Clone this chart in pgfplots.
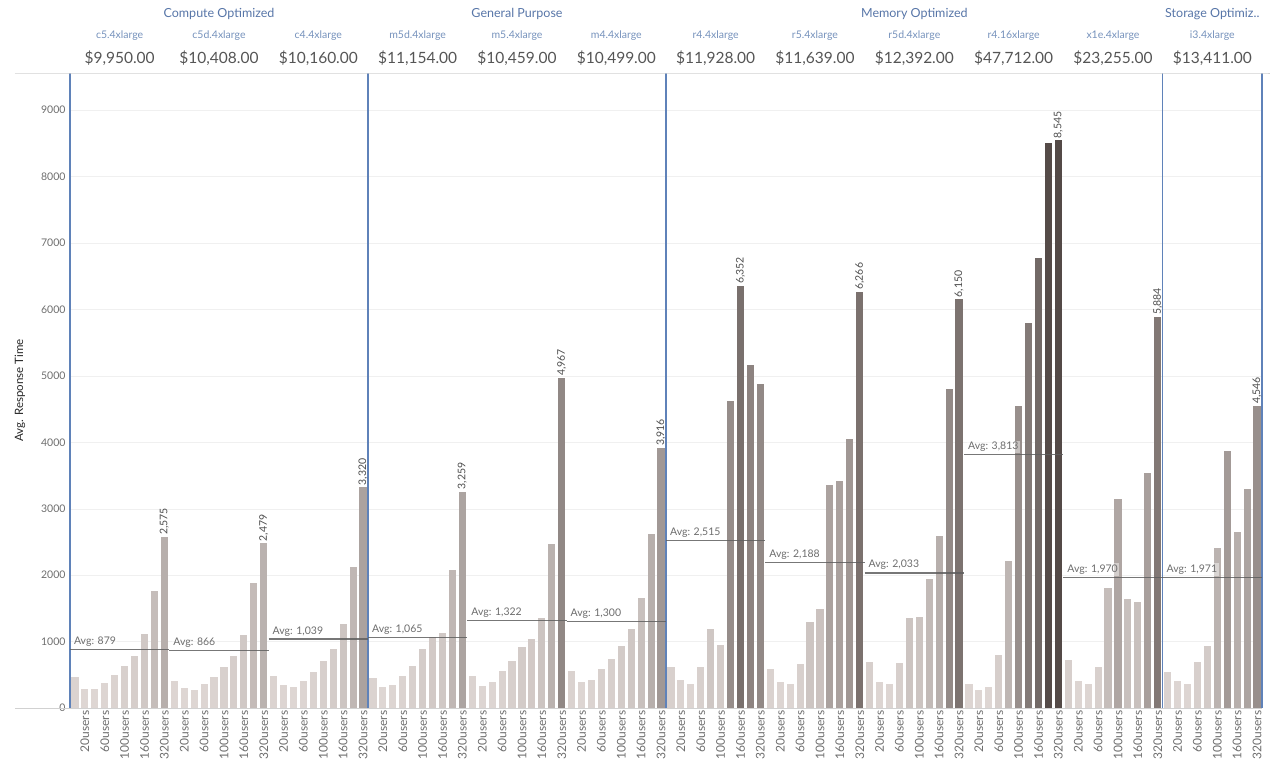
\documentclass[border=0pt]{standalone}
\usepackage{pgfplots}
\pgfplotsset{compat=1.18}
\usepackage{fontspec}
\setmainfont{Lato}

\definecolor{blight}{RGB}{222,214,211}
\definecolor{bdark}{RGB}{84,74,71}
\definecolor{sepblue}{RGB}{95,130,185}
\definecolor{grpblue}{RGB}{88,118,168}
\definecolor{instblue}{RGB}{118,146,188}
\definecolor{pricegray}{RGB}{85,85,85}
\definecolor{tickgray}{RGB}{110,110,110}
\definecolor{avggray}{RGB}{95,95,95}

% one bar, filled by its value (light -> dark)
\newcommand\B[3][]{%
  \pgfmathtruncatemacro\pct{max(0,min(100,(#3-250)/(8545-250)*100))}%
  \edef\tmp{\noexpand\addplot[ybar,bar shift=0pt,bar width=0.72,draw=none,
    fill=bdark!\pct!blight,#1] coordinates {(#2,#3)};}%
  \tmp}
\newcommand\A[2]{%
  \addplot[avggray,line width=1.1pt,opacity=0.85] coordinates {(#1-0.5,#2) (#1+9.5,#2)}
    node[pos=0,anchor=south west,inner sep=1.5pt,xshift=2pt,yshift=1pt,
         fill=white,fill opacity=0.45,text opacity=1,
         text=tickgray,font=\fontsize{10.5}{12}\selectfont]
    {Avg: \pgfmathprintnumber[fixed,precision=0,1000 sep={,}]{#2}};}

\begin{document}
\begin{tikzpicture}
\begin{axis}[
  scale only axis,
  width=1192pt, height=635pt,
  xmin=-0.5, xmax=119.5,
  ymin=0, ymax=9560,
  clip=false,
  axis x line*=bottom, axis y line*=left,
  x axis line style={draw=black!18},
  y axis line style={draw=sepblue,line width=1.1pt},
  major tick length=0pt,
  ytick={0,1000,...,9000},
  ymajorgrids, major grid style={draw=black!6},
  /pgf/number format/assume math mode=true,
  yticklabel style={font=\fontsize{10.5}{12}\selectfont,text=tickgray,xshift=-1pt,
    /pgf/number format/1000 sep={}},
  ylabel={Avg. Response Time},
  ylabel style={at={(axis description cs:-0.042,0.5)},anchor=center,
    font=\fontsize{11.5}{13}\selectfont,text=black!85},
  xtick={1,3,...,119},
  xticklabels={20users,60users,100users,160users,320users,
    20users,60users,100users,160users,320users,
    20users,60users,100users,160users,320users,
    20users,60users,100users,160users,320users,
    20users,60users,100users,160users,320users,
    20users,60users,100users,160users,320users,
    20users,60users,100users,160users,320users,
    20users,60users,100users,160users,320users,
    20users,60users,100users,160users,320users,
    20users,60users,100users,160users,320users,
    20users,60users,100users,160users,320users,
    20users,60users,100users,160users,320users},
  xticklabel style={rotate=90,anchor=east,font=\fontsize{12}{13}\selectfont,
    text=tickgray,xshift=1pt},
  extra x ticks={29.5,59.5,109.5,119.5},
  extra x tick labels={},
  extra x tick style={grid=major,major grid style={draw=sepblue,line width=1.1pt}},
  lbl/.style={nodes near coords={\pgfmathprintnumber[fixed,precision=0,1000 sep={,}]{\pgfplotspointmeta}},
    nodes near coords style={rotate=90,anchor=west,inner sep=2pt,
      font=\fontsize{10.5}{12}\selectfont,text=black!70}},
]
% c5.4xlarge
\B{0}{471}\B{1}{286}\B{2}{286}\B{3}{382}\B{4}{492}\B{5}{638}\B{6}{788}\B{7}{1115}\B{8}{1760}\B[lbl]{9}{2575}
% c5d.4xlarge
\B{10}{400}\B{11}{295}\B{12}{265}\B{13}{360}\B{14}{470}\B{15}{620}\B{16}{780}\B{17}{1105}\B{18}{1886}\B[lbl]{19}{2479}
% c4.4xlarge
\B{20}{480}\B{21}{345}\B{22}{310}\B{23}{402}\B{24}{540}\B{25}{705}\B{26}{895}\B{27}{1265}\B{28}{2128}\B[lbl]{29}{3320}
% m5d.4xlarge
\B{30}{452}\B{31}{320}\B{32}{345}\B{33}{480}\B{34}{632}\B{35}{884}\B{36}{1072}\B{37}{1125}\B{38}{2081}\B[lbl]{39}{3259}
% m5.4xlarge
\B{40}{485}\B{41}{338}\B{42}{388}\B{43}{553}\B{44}{705}\B{45}{920}\B{46}{1045}\B{47}{1350}\B{48}{2469}\B[lbl]{49}{4967}
% m4.4xlarge
\B{50}{552}\B{51}{388}\B{52}{418}\B{53}{582}\B{54}{733}\B{55}{934}\B{56}{1195}\B{57}{1655}\B{58}{2627}\B[lbl]{59}{3916}
% r4.4xlarge
\B{60}{610}\B{61}{420}\B{62}{360}\B{63}{610}\B{64}{1190}\B{65}{945}\B{66}{4620}\B[lbl]{67}{6352}\B{68}{5170}\B{69}{4873}
% r5.4xlarge
\B{70}{580}\B{71}{390}\B{72}{360}\B{73}{660}\B{74}{1300}\B{75}{1488}\B{76}{3360}\B{77}{3425}\B{78}{4051}\B[lbl]{79}{6266}
% r5d.4xlarge
\B{80}{690}\B{81}{390}\B{82}{360}\B{83}{675}\B{84}{1350}\B{85}{1376}\B{86}{1938}\B{87}{2595}\B{88}{4806}\B[lbl]{89}{6150}
% r4.16xlarge
\B{90}{360}\B{91}{270}\B{92}{320}\B{93}{795}\B{94}{2215}\B{95}{4550}\B{96}{5790}\B{97}{6780}\B{98}{8505}\B[lbl]{99}{8545}
% x1e.4xlarge
\B{100}{730}\B{101}{405}\B{102}{360}\B{103}{610}\B{104}{1800}\B{105}{3140}\B{106}{1640}\B{107}{1598}\B{108}{3533}\B[lbl]{109}{5884}
% i3.4xlarge
\B{110}{540}\B{111}{405}\B{112}{360}\B{113}{690}\B{114}{930}\B{115}{2405}\B{116}{3875}\B{117}{2655}\B{118}{3304}\B[lbl]{119}{4546}

% averages per instance
\A{0}{879}\A{10}{866}\A{20}{1039}\A{30}{1065}\A{40}{1322}\A{50}{1300}
\A{60}{2515}\A{70}{2188}\A{80}{2033}\A{90}{3813}\A{100}{1970}\A{110}{1971}

% header rows
\draw[black!18] (rel axis cs:0,1) ++(-60pt,0) -- (rel axis cs:1,1) -- ++(8pt,0);
\draw[black!18] (rel axis cs:0,0) -- ++(-60pt,0);
\pgfplotsextra{
\foreach \x/\t in {14.5/Compute Optimized,44.5/General Purpose,84.5/Memory Optimized,114.5/Storage Optimiz..}{
  \node[font=\fontsize{12.5}{14}\selectfont,text=grpblue] at ([yshift=59pt]axis cs:\x,9560) {\t};}
\foreach \x/\n/\p in {4.5/c5.4xlarge/\$9{,}950.00, 14.5/c5d.4xlarge/\$10{,}408.00,
  24.5/c4.4xlarge/\$10{,}160.00, 34.5/m5d.4xlarge/\$11{,}154.00,
  44.5/m5.4xlarge/\$10{,}459.00, 54.5/m4.4xlarge/\$10{,}499.00,
  64.5/r4.4xlarge/\$11{,}928.00, 74.5/r5.4xlarge/\$11{,}639.00,
  84.5/r5d.4xlarge/\$12{,}392.00, 94.5/r4.16xlarge/\$47{,}712.00,
  104.5/x1e.4xlarge/\$23{,}255.00, 114.5/i3.4xlarge/\$13{,}411.00}{
  \node[font=\fontsize{10.5}{12}\selectfont,text=instblue] at ([yshift=37pt]axis cs:\x,9560) {\n};
  \node[font=\fontsize{15.5}{17}\selectfont,text=pricegray] at ([yshift=15pt]axis cs:\x,9560) {\p};
}}
\end{axis}
\pgfresetboundingbox
\path[use as bounding box] (current axis.south west) ++(-70pt,-53pt) rectangle ++(1270pt,761pt);
\end{tikzpicture}
\end{document}
